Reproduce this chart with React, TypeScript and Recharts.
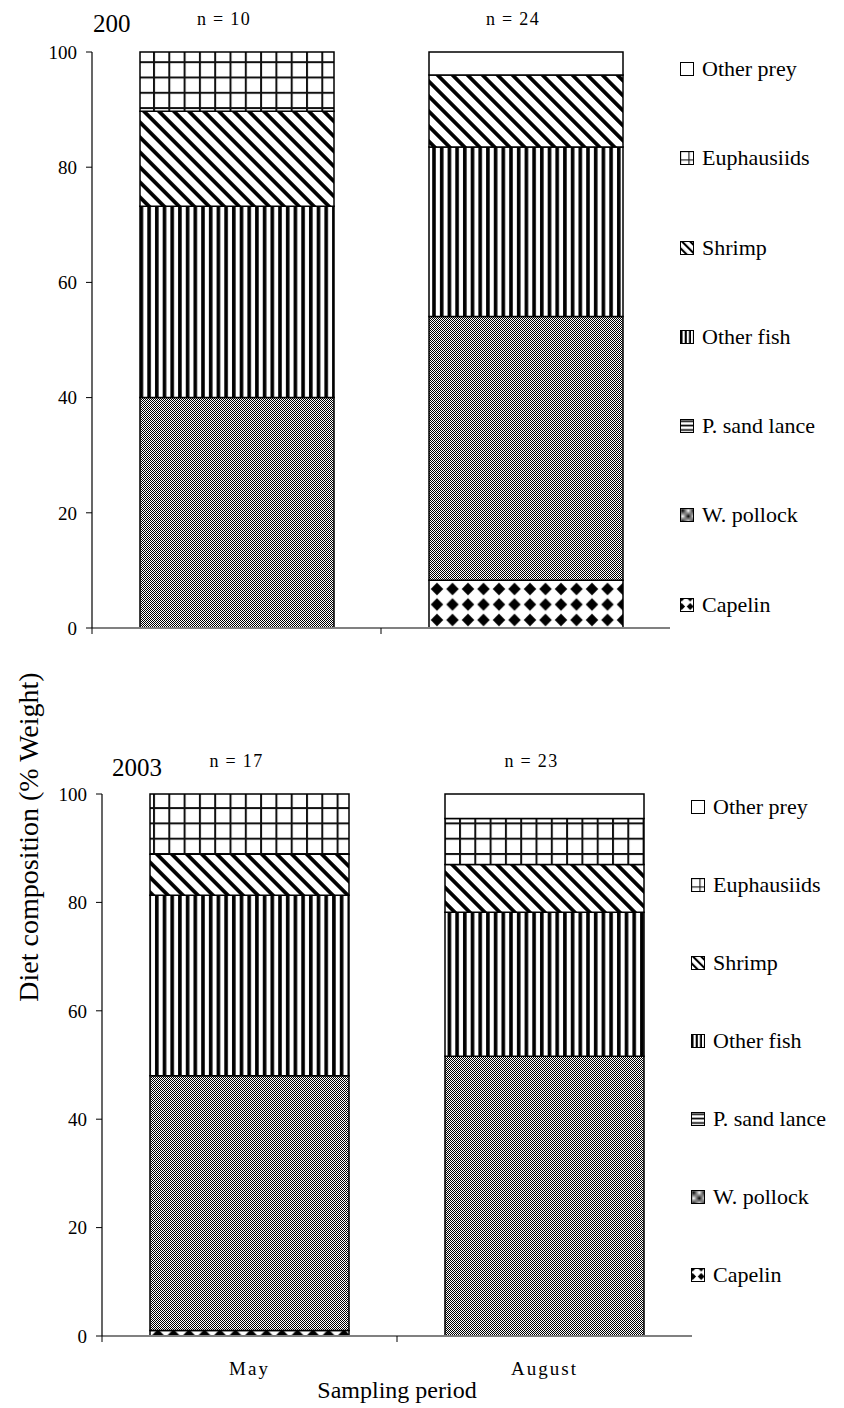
import React from "react";
import { BarChart, Bar, XAxis, YAxis, Legend, LabelList, Label } from "recharts";

const SERIF = '"Liberation Serif", "Times New Roman", serif';

const periods = ["May", "August"];
const preyKeys = ["capelin", "pollock", "sandLance", "otherFish", "shrimp", "euphausiids", "otherPrey"];
const preyNames = ["Capelin", "W. pollock", "P. sand lance", "Other fish", "Shrimp", "Euphausiids", "Other prey"];
const yTicks = [0, 20, 40, 60, 80, 100];

// upper panel (title reads "200" in the source)
const capelinA = [0, 8.3];
const pollockA = [40, 45.8];
const sandLanceA = [0, 0];
const otherFishA = [33.2, 29.4];
const shrimpA = [16.5, 12.5];
const euphausiidsA = [10.3, 0];
const otherPreyA = [0, 4];
const sampleSizeA = [10, 24];

// lower panel, 2003
const capelinB = [1, 0];
const pollockB = [47, 51.6];
const sandLanceB = [0, 0];
const otherFishB = [33.3, 26.6];
const shrimpB = [7.6, 8.8];
const euphausiidsB = [11.1, 8.5];
const otherPreyB = [0, 4.5];
const sampleSizeB = [17, 23];

const buildRows = (series: number[][], n: number[]) =>
  periods.map((p, i) => {
    const row: any = { period: p, n: n[i] };
    preyKeys.forEach((k, j) => {
      row[k] = series[j][i];
    });
    return row;
  });

const rowsA = buildRows(
  [capelinA, pollockA, sandLanceA, otherFishA, shrimpA, euphausiidsA, otherPreyA],
  sampleSizeA
);
const rowsB = buildRows(
  [capelinB, pollockB, sandLanceB, otherFishB, shrimpB, euphausiidsB, otherPreyB],
  sampleSizeB
);

function PreyPatterns({ id, scale = 1 }: { id: string; scale?: number }) {
  const t = `scale(${scale})`;
  const pu = "userSpaceOnUse";
  return (
    <defs>
      <pattern id={`${id}-capelin`} x={-4.75} y={-7.75} width={15.5} height={15.5} patternUnits={pu} patternTransform={t}>
        <rect width={15.5} height={15.5} fill="#fff" />
        <polygon points="7.75,1.5 14,7.75 7.75,14 1.5,7.75" fill="#000" />
      </pattern>
      <pattern id={`${id}-pollock`} width={2} height={2} patternUnits={pu} patternTransform={t}>
        <rect width={2} height={2} fill="#fff" shapeRendering="crispEdges" />
        <rect width={1} height={1} fill="#000" shapeRendering="crispEdges" />
        <rect x={1} y={1} width={1} height={1} fill="#000" shapeRendering="crispEdges" />
      </pattern>
      <pattern id={`${id}-sandLance`} width={8} height={8} patternUnits={pu} patternTransform={t}>
        <rect width={8} height={8} fill="#fff" />
        <rect y={2.5} width={8} height={3} fill="#000" />
      </pattern>
      <pattern id={`${id}-otherFish`} width={7.7} height={8} patternUnits={pu} patternTransform={t}>
        <rect width={7.7} height={8} fill="#fff" />
        <rect x={1} width={3.6} height={8} fill="#000" />
      </pattern>
      <pattern
        id={`${id}-shrimp`}
        width={10.6}
        height={10.6}
        patternUnits={pu}
        patternTransform={`rotate(-45) ${t}`}
      >
        <rect width={10.6} height={10.6} fill="#fff" />
        <rect width={3.8} height={10.6} fill="#000" />
      </pattern>
      <pattern id={`${id}-euphausiids`} width={15.3} height={15.3} patternUnits={pu} patternTransform={t}>
        <rect width={15.3} height={15.3} fill="#fff" />
        <rect width={2} height={15.3} fill="#111" />
        <rect width={15.3} height={2} fill="#111" />
      </pattern>
      <pattern id={`${id}-otherPrey`} width={4} height={4} patternUnits={pu}>
        <rect width={4} height={4} fill="#fff" />
      </pattern>
    </defs>
  );
}

function PreyLegend({ id, rowGap }: { id: string; rowGap: number }) {
  const order = [...preyKeys].reverse();
  return (
    <div style={{ fontFamily: SERIF, fontSize: 22, lineHeight: "22px", color: "#000" }}>
      {order.map((k) => (
        <div key={k} style={{ height: rowGap, display: "flex", alignItems: "flex-start" }}>
          <svg width={14} height={14} style={{ marginTop: 4, marginRight: 8, flex: "none" }}>
            <rect x={0.5} y={0.5} width={13} height={13} fill={`url(#${id}-sw-${k})`} stroke="#000" />
          </svg>
          <span style={{ whiteSpace: "nowrap" }}>{preyNames[preyKeys.indexOf(k)]}</span>
        </div>
      ))}
    </div>
  );
}

function DietChart(props: {
  id: string;
  rows: any[];
  title: string;
  titleX: number;
  titleY: number;
  width: number;
  height: number;
  margin: { top: number; right: number; bottom: number; left: number };
  yAxisWidth: number;
  xAxisHeight: number;
  barSize: number;
  legendLeft: number;
  legendTop: number;
  legendGap: number;
  showPeriods: boolean;
}) {
  const { id, rows, margin } = props;
  const band = (props.width - margin.left - margin.right - props.yAxisWidth) / periods.length;

  const PeriodTick = (tp: any) => {
    const { x, y, index, payload } = tp;
    return (
      <g>
        {index === 0 && (
          <>
            <line x1={x - band / 2} x2={x - band / 2} y1={y} y2={y + 6} stroke="#000" />
            <line x1={x + band / 2} x2={x + band / 2} y1={y} y2={y + 6} stroke="#000" />
          </>
        )}
        {props.showPeriods && (
          <text
            x={x}
            y={y + 39}
            textAnchor="middle"
            fontFamily={SERIF}
            fontSize={19}
            letterSpacing={2}
            fill="#000"
          >
            {payload.value}
          </text>
        )}
      </g>
    );
  };

  // sample size sits above the full stack, i.e. above the plot top
  const SampleLabel = (lp: any) => (
    <text
      x={lp.x + lp.width / 2 - 13}
      y={margin.top - 27}
      textAnchor="middle"
      fontFamily={SERIF}
      fontSize={18}
      letterSpacing={1.3}
      fill="#000"
    >
      {`n = ${lp.value}`}
    </text>
  );

  return (
    <div style={{ position: "relative", width: props.width, height: props.height, fontFamily: SERIF }}>
      <BarChart
        width={props.width}
        height={props.height}
        data={rows}
        margin={margin}
        barSize={props.barSize}
        style={{ fontFamily: SERIF }}
      >
        <PreyPatterns id={id} />
        <PreyPatterns id={`${id}-sw`} scale={0.55} />
        <XAxis
          dataKey="period"
          interval={0}
          height={props.xAxisHeight}
          tickSize={0}
          tickMargin={0}
          tickLine={false}
          axisLine={{ stroke: "#808080", strokeWidth: 2 }}
          tick={PeriodTick}
        >
          {props.showPeriods && (
            <Label
              value="Sampling period"
              position="insideBottom"
              offset={0}
              fontFamily={SERIF}
              fontSize={24}
              fill="#000"
            />
          )}
        </XAxis>
        <YAxis
          width={props.yAxisWidth}
          domain={[0, 100]}
          ticks={yTicks}
          interval={0}
          tickSize={6}
          tickMargin={9}
          axisLine={{ stroke: "#000", strokeWidth: 1.2 }}
          tickLine={{ stroke: "#000" }}
          tick={{ fontFamily: SERIF, fontSize: 19, fill: "#000" }}
        />
        <Legend
          layout="horizontal"
          verticalAlign="middle"
          align="center"
          wrapperStyle={{ left: props.legendLeft, top: props.legendTop, width: 160 }}
          content={() => <PreyLegend id={id} rowGap={props.legendGap} />}
        />
        {preyKeys.map((k) => (
          <Bar
            key={k}
            dataKey={k}
            stackId="diet"
            fill={`url(#${id}-${k})`}
            stroke="#000"
            strokeWidth={1.5}
            isAnimationActive={false}
          >
            {k === "pollock" && <LabelList dataKey="n" content={SampleLabel} />}
          </Bar>
        ))}
      </BarChart>
      <div
        style={{
          position: "absolute",
          left: props.titleX,
          top: props.titleY,
          fontFamily: SERIF,
          fontSize: 25,
          lineHeight: "25px",
          color: "#000",
        }}
      >
        {props.title}
      </div>
    </div>
  );
}

export default function App() {
  return (
    <div style={{ position: "absolute", left: 0, top: 0, width: 844, height: 1408, background: "#fff" }}>
      <DietChart
        id="p2002"
        rows={rowsA}
        title="200"
        titleX={93}
        titleY={11}
        width={844}
        height={700}
        margin={{ top: 52, right: 174, bottom: 32, left: 0 }}
        yAxisWidth={92}
        xAxisHeight={40}
        barSize={194}
        legendLeft={680}
        legendTop={58}
        legendGap={89.3}
        showPeriods={false}
      />
      <DietChart
        id="p2003"
        rows={rowsB}
        title="2003"
        titleX={112}
        titleY={55}
        width={844}
        height={708}
        margin={{ top: 94, right: 152, bottom: 10, left: 0 }}
        yAxisWidth={102}
        xAxisHeight={62}
        barSize={199}
        legendLeft={691}
        legendTop={96}
        legendGap={78}
        showPeriods={true}
      />
      <svg
        width={60}
        height={1408}
        style={{ position: "absolute", left: 0, top: 0, overflow: "visible" }}
      >
        <text
          transform="translate(38, 837) rotate(-90)"
          textAnchor="middle"
          fontFamily={SERIF}
          fontSize={28}
          fill="#000"
        >
          Diet composition (% Weight)
        </text>
      </svg>
    </div>
  );
}
